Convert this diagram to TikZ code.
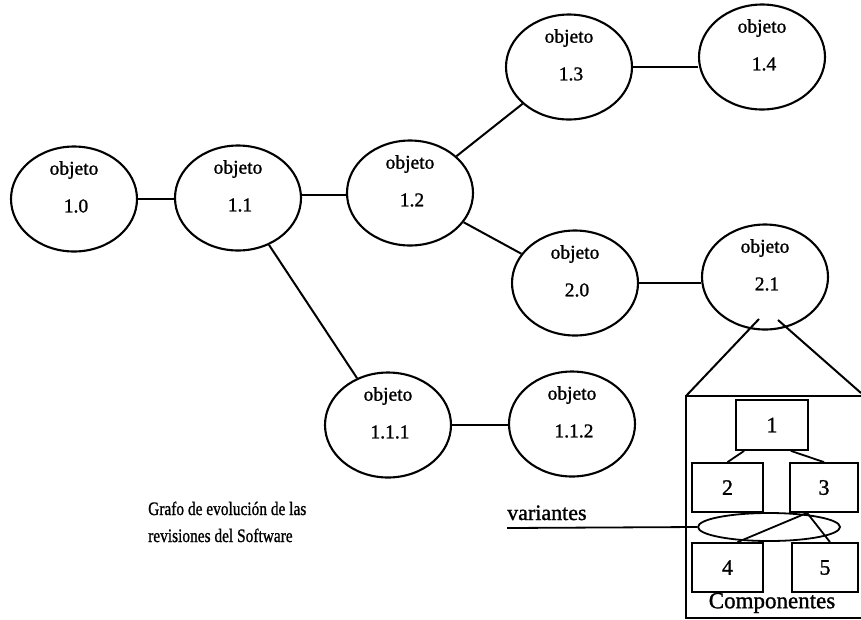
\documentclass[tikz,border=0pt]{standalone}
\usepackage{fontspec}
\usepackage{graphicx}
\setmainfont{Liberation Serif}[FakeBold=1.2]
\usetikzlibrary{shapes.geometric,calc}

\tikzset{
  obj/.style={draw, ellipse, line width=2.1pt, minimum width=126pt, minimum height=105pt, inner sep=0pt},
  objtxt/.style={font=\fontsize{19.5}{22}\selectfont, inner sep=0pt},
  link/.style={line width=2pt},
  comp/.style={draw, rectangle, line width=1.8pt, minimum width=71pt, minimum height=49pt, inner sep=0pt, font=\fontsize{22}{26}\selectfont},
  thin/.style={line width=1.8pt},
  caption/.style={font=\fontsize{19}{27}\selectfont, inner sep=0pt, anchor=base west}
}

% a version object: ellipse with "objeto" above its number
\newcommand{\versionobj}[4]{%
  \node[obj] (#1) at (#2,#3) {};
  \node[objtxt] (#1-t) at ($(#1.center)+(0,-29)$) {objeto};
  \node[objtxt] (#1-n) at ($(#1.center)+(2,7)$) {#4};
}

\begin{document}
\begin{tikzpicture}[x=1pt, y=-1pt]
  \useasboundingbox (0,0) rectangle (861,619);

  % revision graph
  \versionobj{o10}{74}{199}{1.0}
  \versionobj{o11}{238}{198}{1.1}
  \versionobj{o12}{410}{193}{1.2}
  \versionobj{o13}{569}{67}{1.3}
  \versionobj{o14}{762}{57}{1.4}
  \versionobj{o20}{575}{283}{2.0}
  \versionobj{o21}{765}{277}{2.1}
  \versionobj{o111}{388}{425}{1.1.1}
  \versionobj{o112}{572}{424}{1.1.2}

  % successor links, drawn level from the older version
  \coordinate (l11) at ($(o11.east)+(0,-3)$);
  \draw[link] (o10.east) -- (o10.east -| o11.west);
  \draw[link] (l11) -- (l11 -| o12.west);
  \draw[link] (o12) -- (o13);
  \draw[link] (o12) -- (o20);
  \draw[link] (o13.east) -- (o13.east -| o14.west);
  \draw[link] (o20.east) -- (o20.east -| o21.west);
  \draw[link] (o11) -- (o111);
  \draw[link] (o111.east) -- (o111.east -| o112.west);

  % caption
  \node[caption] (cap1) at (148,515) {\scalebox{0.81}[1]{Grafo de evolución de las}};
  \node[caption] (cap2) at (148,542) {\scalebox{0.81}[1]{revisiones del Software}};

  % component view of version 2.1
  \coordinate (boxtl) at (686,396);
  \coordinate (boxtr) at (861,393);
  \coordinate (boxbl) at (686,619);
  \coordinate (boxbr) at (861,618);
  \coordinate (zl) at ($(o21.center)+(-6,42)$);
  \coordinate (zr) at ($(o21.center)+(13,43)$);
  \draw[link] (zl) -- (boxtl);
  \draw[link] (zr) -- (boxtr);
  \draw[link] (boxbl) -- (boxtl) -- (861,396);
  \draw[thin] (boxbl |- boxbr) -- (boxbr);

  \node[comp, minimum width=72pt, minimum height=50pt] (b1) at (772,425) {1};
  \node[comp] (b2) at (727.5,487.5) {2};
  \node[comp, minimum width=68pt] (b3) at (824,487.5) {3};
  \node[comp] (b4) at (727.5,567.5) {4};
  \node[comp, minimum width=66pt] (b5) at (825,567.5) {5};

  \draw[thin] ($(b1.south west)+(9,0)$) -- (b2.north);
  \draw[thin] ($(b1.south east)+(-18,0)$) -- (b3.north);
  \coordinate (v3) at ($(b3.south west)+(18,0)$);
  \draw[thin] (v3) -- ($(b4.north)+(10,0)$);
  \draw[thin] (v3) -- ($(b5.north)+(5,0)$);

  \node[draw, ellipse, thin, minimum width=142pt, minimum height=28pt, inner sep=0pt] (var) at (769,527) {};
  \coordinate (varend) at (507,528);
  \draw[thin] (varend) -- (var.west);
  \node[font=\fontsize{22}{26}\selectfont, inner sep=0pt, anchor=base west] (vartxt) at (507,520) {variantes};

  \node[font=\fontsize{23}{26}\selectfont, inner sep=0pt] (comptxt) at (772,603) {Componentes};
\end{tikzpicture}
\end{document}
